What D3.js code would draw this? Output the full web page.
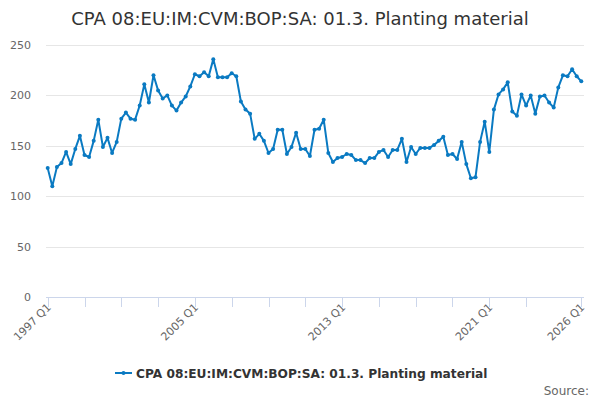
<!DOCTYPE html>
<html>
<head>
<meta charset="utf-8">
<script src="https://cdn.jsdelivr.net/npm/d3@7"></script>
<style>
  body { margin: 0; background: #fff; }
  svg { font-family: "DejaVu Sans", Verdana, sans-serif; }
</style>
</head>
<body>
<svg width="600" height="400"></svg>
<script>
// quarterly values, 1997 Q1 .. 2026 Q1
const values = [
  128, 110, 129, 133, 144, 132, 147, 160, 141, 139, 155, 176, 149, 158, 143, 154,
  177, 183, 177, 176, 190, 211, 193, 220, 205, 197, 200, 190, 185, 193, 199, 209,
  221, 219, 223, 219, 236, 218, 218, 218, 222, 219, 194, 186, 182, 157, 162, 155,
  143, 147, 166, 166, 142, 149, 163, 147, 147, 140, 166, 167, 176, 143, 134, 138,
  139, 142, 141, 136, 136, 133, 138, 138, 144, 146, 139, 146, 146, 157, 134, 149,
  142, 148, 148, 148, 151, 155, 159, 141, 142, 137, 154, 132, 118, 119, 154, 174,
  144, 186, 201, 206, 213, 184, 180, 201, 190, 200, 182, 199, 200, 193, 188, 208,
  220, 219, 226, 219, 214
];
const startYear = 1997;
const quarters = values.map((v, i) => (startYear + Math.floor(i / 4)) + " Q" + (i % 4 + 1));
const tickIdx = [0, 8, 16, 24, 32, 40, 48, 56, 64, 72, 80, 88, 96, 104, 116];
const labelIdx = [0, 32, 64, 96, 116];
const yTicks = [0, 50, 100, 150, 200, 250];
const seriesName = "CPA 08:EU:IM:CVM:BOP:SA: 01.3. Planting material";

const svg = d3.select("svg");
const plotLeft = 46, plotRight = 584;

const x = d3.scaleLinear().domain([0, values.length - 1]).range([47.7, 581.3]);
const y = d3.scaleLinear().domain([0, 250]).range([297.3, 45]);

svg.append("text")
  .attr("x", 300).attr("y", 25)
  .attr("text-anchor", "middle")
  .attr("font-size", 18).attr("fill", "#333")
  .text(seriesName);

// grid + y labels
svg.append("g").selectAll("line")
  .data(yTicks.filter(d => d > 0))
  .join("line")
  .attr("x1", plotLeft).attr("x2", plotRight)
  .attr("y1", d => Math.round(y(d)) + 0.5).attr("y2", d => Math.round(y(d)) + 0.5)
  .attr("stroke", "#e6e6e6");

svg.append("g").selectAll("text")
  .data(yTicks)
  .join("text")
  .attr("x", 31).attr("y", d => y(d) + 4)
  .attr("text-anchor", "end")
  .attr("font-size", 11).attr("fill", "#666")
  .text(d => d);

// x axis
const xa = svg.append("g");
xa.append("line")
  .attr("x1", plotLeft).attr("x2", plotRight)
  .attr("y1", 297.5).attr("y2", 297.5)
  .attr("stroke", "#ccd6eb");
xa.selectAll(".tick")
  .data(tickIdx)
  .join("line")
  .attr("x1", d => Math.round(x(d)) + 0.5).attr("x2", d => Math.round(x(d)) + 0.5)
  .attr("y1", 297).attr("y2", 307)
  .attr("stroke", "#ccd6eb");
xa.selectAll("text")
  .data(labelIdx)
  .join("text")
  .attr("transform", d => `translate(${x(d) + 4},${308}) rotate(-45)`)
  .attr("text-anchor", "end")
  .attr("font-size", 11).attr("fill", "#666")
  .text(d => quarters[d]);

// series
const line = d3.line().x((d, i) => x(i)).y(d => y(d));
svg.append("path")
  .datum(values)
  .attr("d", line)
  .attr("fill", "none")
  .attr("stroke", "#0a7ac2")
  .attr("stroke-width", 2)
  .attr("stroke-linejoin", "round");
svg.append("g").selectAll("circle")
  .data(values)
  .join("circle")
  .attr("cx", (d, i) => x(i)).attr("cy", d => y(d))
  .attr("r", 2).attr("fill", "#0a7ac2");

// legend
const lg = svg.append("g").attr("transform", "translate(0,373)");
lg.append("line").attr("x1", 115).attr("x2", 132).attr("y1", 0).attr("y2", 0)
  .attr("stroke", "#0a7ac2").attr("stroke-width", 2);
lg.append("circle").attr("cx", 123.5).attr("cy", 0).attr("r", 2).attr("fill", "#0a7ac2");
lg.append("text").attr("x", 136).attr("y", 4.5)
  .attr("font-size", 12.2).attr("font-weight", "bold").attr("fill", "#333")
  .text(seriesName);

svg.append("text")
  .attr("x", 589).attr("y", 395)
  .attr("text-anchor", "end")
  .attr("font-size", 12).attr("fill", "#666")
  .text("Source:");
</script>
</body>
</html>
